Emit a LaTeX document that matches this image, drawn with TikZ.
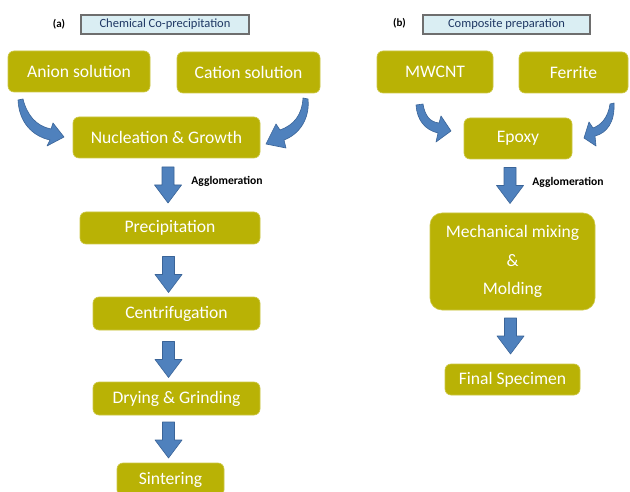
\documentclass[tikz,border=0pt]{standalone}
\usepackage{fontspec}
\setmainfont{Carlito}
\definecolor{olivebox}{RGB}{185,178,5}
\definecolor{oliveedge}{RGB}{205,200,70}
\definecolor{arrowblue}{RGB}{79,129,189}
\definecolor{arrowedge}{RGB}{58,100,152}
\definecolor{titlefill}{RGB}{218,238,243}
\definecolor{titleedge}{RGB}{110,110,110}
\definecolor{titletext}{RGB}{31,56,100}
\tikzset{
  procbox/.style={draw=oliveedge, line width=0.6pt, fill=olivebox, rounded corners=6pt,
    text=white, font=\fontsize{17.6}{20}\selectfont, inner sep=0pt, align=center},
  titlebox/.style={draw=titleedge, line width=1.2pt, fill=titlefill, text=titletext,
    font=\fontsize{12.5}{14}\selectfont, inner sep=0pt},
  panellabel/.style={font=\bfseries\fontsize{11}{12}\selectfont, inner sep=0pt},
  aggllabel/.style={font=\bfseries\fontsize{11.6}{13}\selectfont, inner sep=0pt},
  blockarrow/.style={fill=arrowblue, draw=arrowedge, line width=0.6pt, line join=round},
  darrow/.pic={\path[blockarrow] (-6,-18) -- (6,-18) -- (6,0) -- (13.5,0) -- (0,18) -- (-13.5,0) -- (-6,0) -- cycle;}
}
\begin{document}
\begin{tikzpicture}[x=1pt,y=-1pt]
\useasboundingbox (0,0) rectangle (630,492);
\clip (0,0) rectangle (630,492);
\fill[white] (0,0) rectangle (630,492);

% ---------- panel (a) ----------
\node[panellabel] (la) at (59,24) {(a)};
\node[titlebox, minimum width=168pt, minimum height=19pt] (ta) at (165,24.5) {Chemical Co-precipitation};

\node[procbox, minimum width=142pt, minimum height=41pt] (anion) at (79,71.5) {Anion solution};
\node[procbox, minimum width=143pt, minimum height=41pt] (cation) at (248.5,72.5) {Cation solution};
\node[procbox, minimum width=187pt, minimum height=41pt] (nuc) at (166.5,137.5) {Nucleation \& Growth};
\node[procbox, minimum width=180pt, minimum height=32pt] (prec) at (170,228) {Precipitation};
\node[procbox, minimum width=167pt, minimum height=33pt] (cent) at (176.5,313.5) {Centrifugation};
\node[procbox, minimum width=167pt, minimum height=33pt] (dry) at (176.5,398.5) {Drying \& Grinding};
\node[procbox, minimum width=107pt, minimum height=33pt] (sint) at (170.5,479.5) {Sintering};

\path (168,185) pic {darrow};
\path (168.5,274.5) pic {darrow};
\path (168.5,359.5) pic {darrow};
\path (168.5,440) pic {darrow};
\node[aggllabel] (agga) at (227,181.5) {Agglomeration};

% curved arrows (a)
\path[blockarrow] (18,100) -- (23,99)
  .. controls (27,115) and (36,126) .. (51,129)
  -- (53,123) -- (64,137) -- (47,146) -- (50,140)
  .. controls (32,136) and (19,122) .. (18,100) -- cycle;
\path[blockarrow] (303,98) -- (308,99)
  .. controls (310,118) and (300,134) .. (284,140)
  -- (286,148) -- (266,144) -- (276,124) -- (280,130)
  .. controls (294,125) and (302,115) .. (303,98) -- cycle;

% ---------- panel (b) ----------
\node[panellabel] (lb) at (399.5,23.5) {(b)};
\node[titlebox, minimum width=167pt, minimum height=19pt] (tb) at (506.5,24.5) {Composite preparation};

\node[procbox, minimum width=116pt, minimum height=42pt] (mw) at (435,72) {MWCNT};
\node[procbox, minimum width=109pt, minimum height=41pt] (fe) at (573.5,72.5) {Ferrite};
\node[procbox, minimum width=108pt, minimum height=41pt] (ep) at (518,138.5) {Epoxy};
\node[procbox, rounded corners=12pt, minimum width=165pt, minimum height=97pt,
  font=\fontsize{17.6}{28.5}\selectfont] (mech) at (512.5,261.5) {Mechanical mixing\\\&\\Molding};
\node[procbox, minimum width=135pt, minimum height=31pt] (fin) at (512.5,379.5) {Final Specimen};

\path (510,185.5) pic {darrow};
\path (510.5,336) pic {darrow};
\node[aggllabel] (aggb) at (568,182.5) {Agglomeration};

% curved arrows (b)
\path[blockarrow] (416,105) -- (423,104)
  .. controls (425,116) and (430,122) .. (439,123)
  -- (441,116) -- (451,131) -- (436,142) -- (438,133)
  .. controls (425,130) and (417,120) .. (416,105) -- cycle;
\path[blockarrow] (610,104) -- (614,103)
  .. controls (615,122) and (607,133) .. (595,136)
  -- (596,146) -- (584,138) -- (589,122) -- (593,128)
  .. controls (601,125) and (608,118) .. (610,104) -- cycle;
\end{tikzpicture}
\end{document}
